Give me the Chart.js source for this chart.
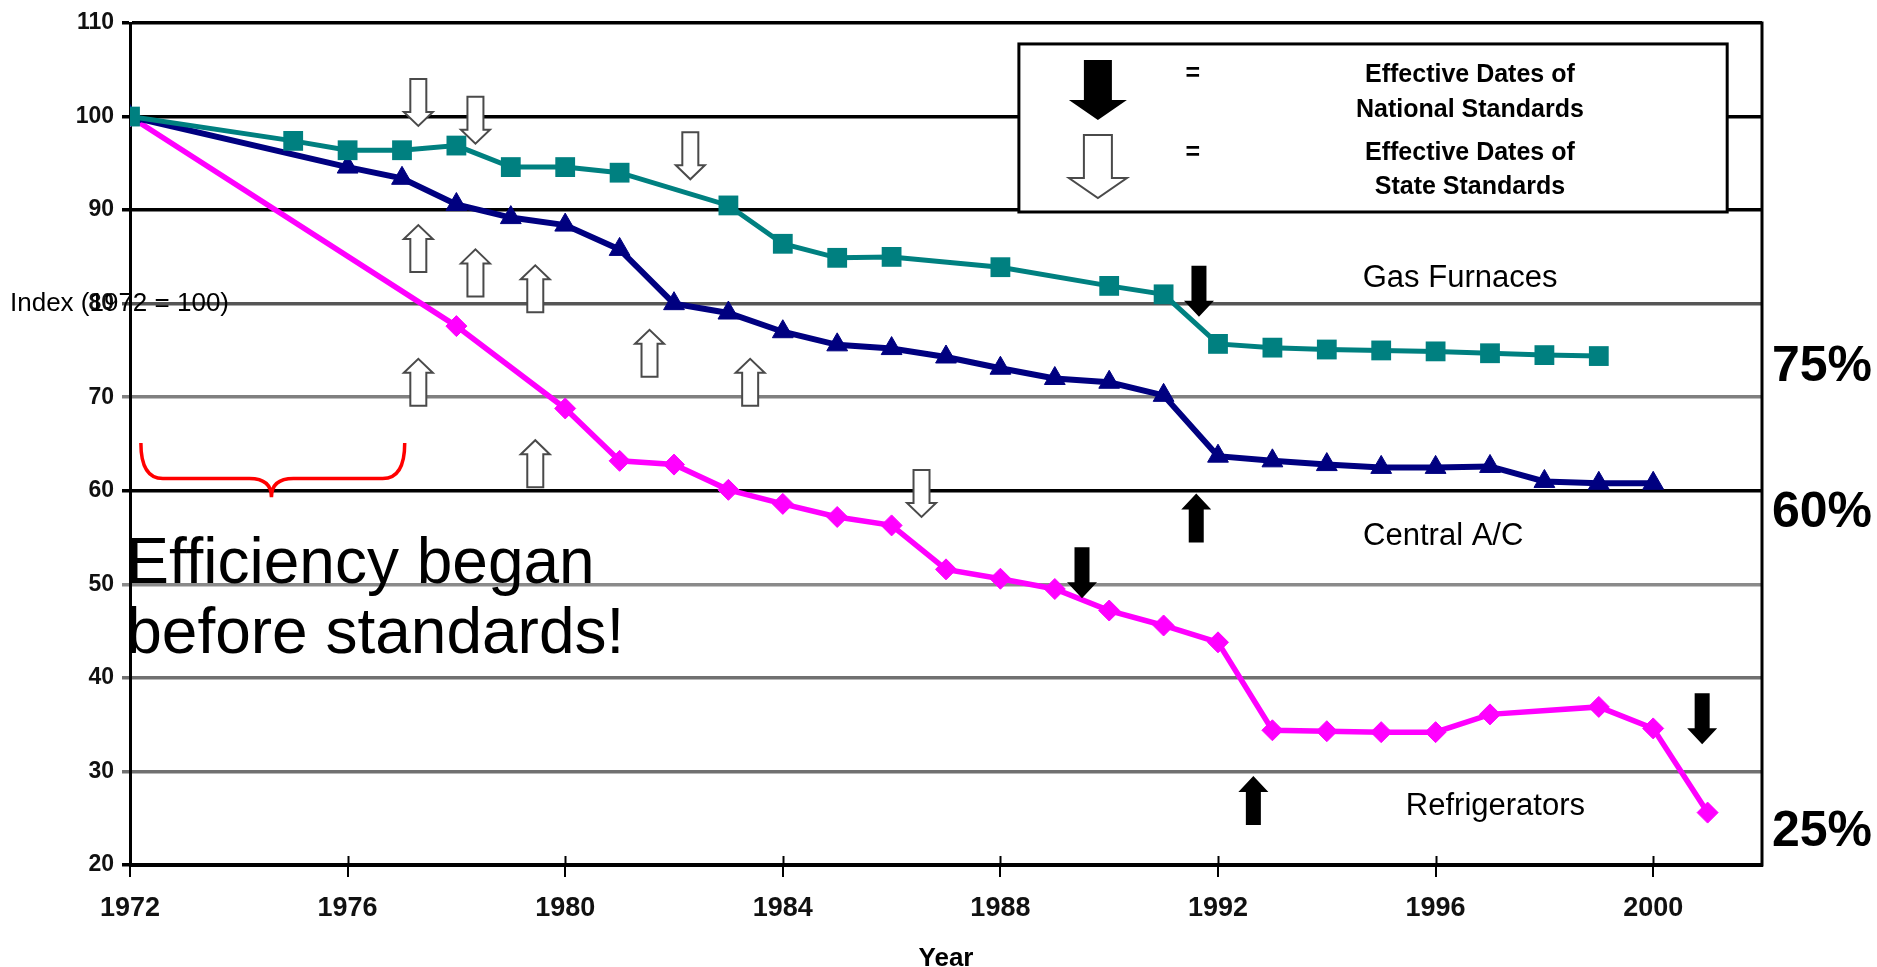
<!DOCTYPE html>
<html><head><meta charset="utf-8">
<script src="https://cdn.jsdelivr.net/npm/chart.js@4.4.1/dist/chart.umd.min.js"></script>
<style>html,body{margin:0;padding:0;background:#fff;overflow:hidden}</style>
</head><body>
<canvas id="c" width="1877" height="967"></canvas>
<script>
// ---- data (index, 1972 = 100) ----
const furnaceYears = [1972,1975,1976,1977,1978,1979,1980,1981,1983,1984,1985,1986,1988,1990,1991,1992,1993,1994,1995,1996,1997,1998,1999];
const furnaceIndex = [100,97.4,96.4,96.4,96.9,94.6,94.6,94.0,90.5,86.4,84.9,85.0,83.9,81.9,81.0,75.7,75.3,75.1,75.0,74.9,74.7,74.5,74.4];
const acYears = [1972,1976,1977,1978,1979,1980,1981,1982,1983,1984,1985,1986,1987,1988,1989,1990,1991,1992,1993,1994,1995,1996,1997,1998,1999,2000];
const acIndex = [100,94.6,93.4,90.6,89.2,88.4,85.8,80.0,79.0,77.0,75.6,75.2,74.3,73.1,72.0,71.6,70.2,63.7,63.2,62.8,62.5,62.5,62.6,61.0,60.8,60.8];
const fridgeYears = [1972,1978,1980,1981,1982,1983,1984,1985,1986,1987,1988,1989,1990,1991,1992,1993,1994,1995,1996,1997,1999,2000,2001];
const fridgeIndex = [100,77.6,68.8,63.2,62.8,60.1,58.6,57.2,56.3,51.6,50.6,49.5,47.2,45.6,43.8,34.4,34.3,34.2,34.2,36.1,36.9,34.6,25.6];

const xTickYears = [1972,1976,1980,1984,1988,1992,1996,2000];
const yTickValues = [20,30,40,50,60,70,80,90,100,110];
const seriesNames = ['Gas Furnaces','Central A/C','Refrigerators'];
const savingsLabels = ['75%','60%','25%'];

// effective dates of standards: [year, index at arrow tip]
const stateDownArrows = [[1977.3,99.0],[1978.35,97.1],[1982.3,93.3],[1986.55,57.2]];
const stateUpArrows = [[1977.3,88.4],[1978.35,85.8],[1979.45,84.1],[1977.3,74.1],[1981.55,77.2],[1983.4,74.1],[1979.45,65.4]];
const nationalDownArrows = [[1991.65,78.6],[1989.5,48.5],[2000.9,32.9]];
const nationalUpArrows = [[1991.6,59.7],[1992.65,29.5]];

const toPoints = (xs, ys) => xs.map((x, i) => ({x: x, y: ys[i]}));

const FONT = "'Liberation Sans', Arial, sans-serif";

function arrowPath(ctx, x, tipY, dir, L, s, hw, hl) {
  const tail = tipY - dir * L, neck = tipY - dir * hl;
  ctx.beginPath();
  ctx.moveTo(x - s/2, tail);
  ctx.lineTo(x + s/2, tail);
  ctx.lineTo(x + s/2, neck);
  ctx.lineTo(x + hw/2, neck);
  ctx.lineTo(x, tipY);
  ctx.lineTo(x - hw/2, neck);
  ctx.lineTo(x - s/2, neck);
  ctx.closePath();
}
function drawArrow(ctx, x, tipY, dir, hollow, L, s, hw, hl) {
  arrowPath(ctx, x, tipY, dir, L, s, hw, hl);
  if (hollow) {
    ctx.fillStyle = '#fff'; ctx.fill();
    ctx.strokeStyle = '#4a4a4a'; ctx.lineWidth = 2; ctx.stroke();
  } else {
    ctx.fillStyle = '#000'; ctx.fill();
  }
}

const annotations = {
  id: 'annotations',
  afterDatasetsDraw(chart) {
    const ctx = chart.ctx, xs = chart.scales.x, ys = chart.scales.y;
    const X = v => xs.getPixelForValue(v), Y = v => ys.getPixelForValue(v);
    ctx.save();
    stateDownArrows.forEach(a => drawArrow(ctx, X(a[0]), Y(a[1]), 1, true, 47, 16, 29, 14));
    stateUpArrows.forEach(a => drawArrow(ctx, X(a[0]), Y(a[1]), -1, true, 47, 16, 29, 14));
    nationalDownArrows.forEach(a => drawArrow(ctx, X(a[0]), Y(a[1]), 1, false, 51, 15, 30, 16));
    nationalUpArrows.forEach(a => drawArrow(ctx, X(a[0]), Y(a[1]), -1, false, 49, 15, 30, 16));

    // red brace
    const xl = X(1972.2), xr = X(1977.05), xm = X(1974.6);
    const yt = Y(65.1), yh = Y(61.3), yp = Y(59.3), r = 22;
    ctx.beginPath();
    ctx.moveTo(xl, yt);
    ctx.quadraticCurveTo(xl, yh, xl + r, yh);
    ctx.lineTo(xm - r, yh);
    ctx.quadraticCurveTo(xm, yh, xm, yp);
    ctx.quadraticCurveTo(xm, yh, xm + r, yh);
    ctx.lineTo(xr - r, yh);
    ctx.quadraticCurveTo(xr, yh, xr, yt);
    ctx.strokeStyle = '#ff0000'; ctx.lineWidth = 3.5; ctx.stroke();

    ctx.fillStyle = '#000';
    ctx.textBaseline = 'alphabetic';
    ctx.textAlign = 'left';
    ctx.font = '64px ' + FONT;
    ctx.fillText('Efficiency began', X(1971.93), Y(50.15));
    ctx.fillText('before standards!', X(1971.93), Y(42.66));

    ctx.textAlign = 'center';
    ctx.font = '31px ' + FONT;
    ctx.fillText(seriesNames[0], X(1996.45), Y(81.8));
    ctx.fillText(seriesNames[1], X(1996.14), Y(54.2));
    ctx.fillText(seriesNames[2], X(1997.1), Y(25.35));
    ctx.restore();
  },
  afterDraw(chart) {
    const ctx = chart.ctx, xs = chart.scales.x, ys = chart.scales.y, ca = chart.chartArea;
    const X = v => xs.getPixelForValue(v), Y = v => ys.getPixelForValue(v);
    ctx.save();
    ctx.strokeStyle = '#000'; ctx.lineWidth = 3;
    ctx.beginPath(); ctx.moveTo(ca.right, ca.top - 1.5); ctx.lineTo(ca.right, ca.bottom + 1.5); ctx.stroke();
    ctx.lineWidth = 2;
    xTickYears.forEach(v => { const px = Math.round(X(v)) + 0.5; ctx.beginPath(); ctx.moveTo(px, ca.bottom); ctx.lineTo(px, ca.bottom - 9); ctx.stroke(); });

    ctx.fillStyle = '#000';
    ctx.font = '26px ' + FONT;
    ctx.textAlign = 'left'; ctx.textBaseline = 'middle';
    ctx.fillText('Index (1972 = 100)', 10, Y(80));
    ctx.textAlign = 'center'; ctx.textBaseline = 'alphabetic';
    ctx.font = 'bold 26px ' + FONT;
    ctx.fillText('Year', (ca.left + ca.right) / 2, 966);

    ctx.font = 'bold 50px ' + FONT;
    ctx.textAlign = 'left';
    ctx.fillText(savingsLabels[0], ca.right + 10, Y(71.74));
    ctx.fillText(savingsLabels[1], ca.right + 10, Y(56.13));
    ctx.fillText(savingsLabels[2], ca.right + 10, Y(22.04));

    const bl = X(1988.34), br = X(2001.36), bt = Y(107.76), bb = Y(89.8);
    ctx.fillStyle = '#fff';
    ctx.fillRect(bl, bt, br - bl, bb - bt);
    ctx.strokeStyle = '#000'; ctx.lineWidth = 3;
    ctx.strokeRect(bl, bt, br - bl, bb - bt);
    drawArrow(ctx, bl + 79, bt + 76, 1, false, 60, 28, 58, 20);
    drawArrow(ctx, bl + 79, bt + 154, 1, true, 63, 28, 58, 20);
    ctx.fillStyle = '#000';
    ctx.font = 'bold 25px ' + FONT;
    ctx.textAlign = 'center'; ctx.textBaseline = 'middle';
    ctx.fillText('=', bl + 174, bt + 30);
    ctx.fillText('=', bl + 174, bt + 109);
    ctx.fillText('Effective Dates of', bl + 451, bt + 31);
    ctx.fillText('National Standards', bl + 451, bt + 66);
    ctx.fillText('Effective Dates of', bl + 451, bt + 109);
    ctx.fillText('State Standards', bl + 451, bt + 143);
    ctx.restore();
  }
};

const gridShade = {110:'#000',100:'#000',90:'#000',80:'#555',70:'#808080',60:'#000',50:'#8a8a8a',40:'#707070',30:'#707070',20:'#000'};

new Chart(document.getElementById('c'), {
  type: 'line',
  data: {
    datasets: [
      {label: seriesNames[0], data: toPoints(furnaceYears, furnaceIndex), borderColor: '#008080', backgroundColor: '#008080',
       borderWidth: 5, pointStyle: 'rect', pointRadius: 14, pointBorderWidth: 0, pointBackgroundColor: '#008080'},
      {label: seriesNames[1], data: toPoints(acYears, acIndex), borderColor: '#000080', backgroundColor: '#000080',
       borderWidth: 6, pointStyle: 'triangle', pointRadius: 12, pointBorderWidth: 1, pointBackgroundColor: '#000080'},
      {label: seriesNames[2], data: toPoints(fridgeYears, fridgeIndex), borderColor: '#ff00ff', backgroundColor: '#ff00ff',
       borderWidth: 5.5, pointStyle: 'rectRot', pointRadius: 10.5, pointBorderWidth: 1, pointBackgroundColor: '#ff00ff'}
    ]
  },
  options: {
    responsive: false, animation: false,
    layout: {padding: {left: 0, right: 115, top: 23, bottom: 0}},
    plugins: {legend: {display: false}, tooltip: {enabled: false}},
    scales: {
      x: {
        type: 'linear', min: 1972, max: 2002,
        afterBuildTicks: s => { s.ticks = xTickYears.map(v => ({value: v})); },
        afterFit: s => { s.height = 102; },
        ticks: {font: {family: FONT, size: 27, weight: 'bold'}, color: '#111', padding: 15, maxRotation: 0, autoSkip: false, callback: v => String(v)},
        grid: {drawOnChartArea: false, drawTicks: true, tickLength: 12, color: '#000', lineWidth: 2},
        border: {color: '#000', width: 3}
      },
      y: {
        min: 20, max: 110,
        afterBuildTicks: s => { s.ticks = yTickValues.map(v => ({value: v})); },
        afterFit: s => { s.width = 130; },
        ticks: {font: {family: FONT, size: 23, weight: 'bold'}, color: '#111', padding: 8, callback: v => String(v)},
        grid: {color: c => (c.tick && gridShade[c.tick.value]) || '#888', lineWidth: 3.5, tickLength: 8},
        border: {color: '#000', width: 3}
      }
    }
  },
  plugins: [annotations]
});
</script>
</body></html>
